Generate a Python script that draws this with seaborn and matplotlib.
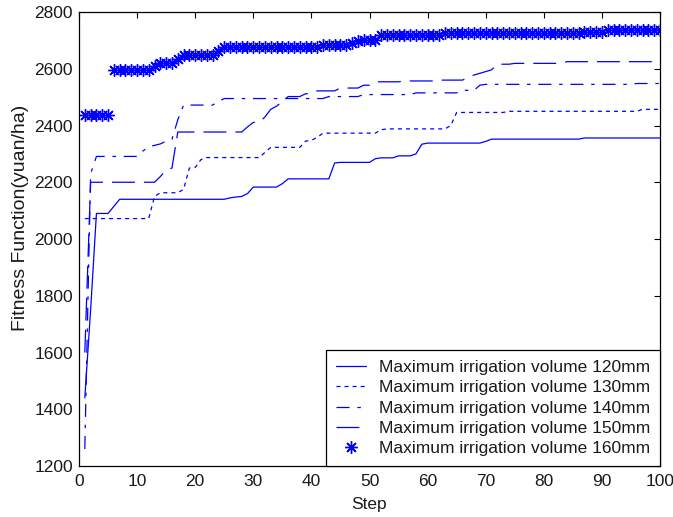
import matplotlib
matplotlib.use("Agg")
import matplotlib.pyplot as plt
import seaborn as sns
import pandas as pd

# ---------------- data ----------------
steps = list(range(1, 101))

v120 = [1440, 1750, 2090, 2090, 2090, 2115, 2140, 2140, 2140, 2140,
        2140, 2140, 2140, 2140, 2140, 2140, 2140, 2140, 2140, 2140,
        2140, 2140, 2140, 2140, 2140, 2145, 2148, 2150, 2160, 2183,
        2183, 2183, 2183, 2183, 2195, 2212, 2212, 2212, 2212, 2212,
        2212, 2212, 2212, 2268, 2270, 2270, 2270, 2270, 2270, 2270,
        2283, 2286, 2286, 2286, 2293, 2293, 2293, 2300, 2334, 2338,
        2338, 2338, 2338, 2338, 2338, 2338, 2338, 2338, 2338, 2344,
        2352, 2352, 2352, 2352, 2352, 2352, 2352, 2352, 2352, 2352,
        2352, 2352, 2352, 2352, 2352, 2352, 2356, 2356, 2356, 2356,
        2356, 2356, 2356, 2356, 2356, 2356, 2356, 2356, 2356, 2356]

v130 = [2072, 2072, 2072, 2072, 2072, 2072, 2072, 2072, 2072, 2072,
        2072, 2072, 2150, 2163, 2163, 2163, 2163, 2175, 2250, 2252,
        2280, 2287, 2287, 2287, 2287, 2287, 2287, 2287, 2287, 2287,
        2287, 2305, 2323, 2323, 2323, 2323, 2323, 2323, 2345, 2348,
        2358, 2373, 2373, 2373, 2373, 2373, 2373, 2373, 2373, 2373,
        2373, 2385, 2388, 2388, 2388, 2388, 2388, 2388, 2388, 2388,
        2388, 2388, 2388, 2400, 2446, 2446, 2446, 2446, 2446, 2446,
        2446, 2446, 2446, 2450, 2450, 2450, 2450, 2450, 2450, 2450,
        2450, 2450, 2450, 2450, 2450, 2450, 2450, 2450, 2450, 2450,
        2450, 2450, 2450, 2450, 2450, 2450, 2457, 2457, 2457, 2457]

v140 = [1260, 2230, 2291, 2291, 2291, 2291, 2291, 2291, 2291, 2291,
        2310, 2325, 2330, 2335, 2345, 2351, 2420, 2472, 2472, 2472,
        2472, 2472, 2472, 2485, 2495, 2495, 2495, 2495, 2495, 2495,
        2495, 2495, 2495, 2495, 2495, 2495, 2495, 2495, 2495, 2495,
        2495, 2495, 2502, 2502, 2502, 2502, 2502, 2502, 2509, 2509,
        2509, 2509, 2509, 2509, 2509, 2509, 2509, 2515, 2515, 2515,
        2515, 2515, 2515, 2515, 2515, 2524, 2524, 2524, 2542, 2545,
        2545, 2545, 2545, 2545, 2545, 2545, 2545, 2545, 2545, 2545,
        2545, 2545, 2545, 2545, 2545, 2545, 2545, 2545, 2545, 2545,
        2545, 2545, 2545, 2545, 2545, 2548, 2548, 2548, 2548, 2548]

v150 = [1600, 2200, 2200, 2200, 2200, 2200, 2200, 2200, 2200, 2200,
        2200, 2200, 2200, 2220, 2243, 2250, 2377, 2377, 2377, 2377,
        2377, 2377, 2377, 2377, 2377, 2377, 2377, 2377, 2395, 2411,
        2411, 2430, 2457, 2468, 2485, 2502, 2502, 2502, 2512, 2512,
        2522, 2522, 2522, 2522, 2532, 2532, 2532, 2532, 2542, 2542,
        2554, 2554, 2554, 2554, 2554, 2557, 2557, 2557, 2557, 2557,
        2557, 2560, 2560, 2560, 2560, 2560, 2570, 2578, 2584, 2590,
        2596, 2616, 2616, 2616, 2619, 2619, 2619, 2619, 2619, 2619,
        2619, 2619, 2619, 2625, 2625, 2625, 2625, 2625, 2625, 2625,
        2625, 2625, 2625, 2625, 2625, 2625, 2625, 2625, 2625, 2625]

v160 = [2437, 2437, 2437, 2437, 2437, 2597, 2597, 2597, 2597, 2597,
        2597, 2597, 2608, 2621, 2621, 2621, 2635, 2648, 2648, 2648,
        2648, 2648, 2648, 2662, 2677, 2677, 2677, 2677, 2677, 2677,
        2677, 2677, 2677, 2677, 2677, 2677, 2677, 2677, 2677, 2677,
        2677, 2683, 2683, 2683, 2683, 2683, 2690, 2697, 2702, 2702,
        2702, 2719, 2719, 2719, 2719, 2719, 2719, 2719, 2719, 2719,
        2719, 2719, 2726, 2726, 2726, 2726, 2726, 2726, 2726, 2726,
        2726, 2726, 2726, 2726, 2726, 2726, 2726, 2726, 2726, 2726,
        2726, 2726, 2726, 2726, 2726, 2726, 2731, 2731, 2731, 2731,
        2737, 2737, 2737, 2737, 2737, 2737, 2737, 2737, 2737, 2737]

labels = ["Maximum irrigation volume 120mm",
          "Maximum irrigation volume 130mm",
          "Maximum irrigation volume 140mm",
          "Maximum irrigation volume 150mm",
          "Maximum irrigation volume 160mm"]

x_ticks = [0, 10, 20, 30, 40, 50, 60, 70, 80, 90, 100]
y_ticks = [1200, 1400, 1600, 1800, 2000, 2200, 2400, 2600, 2800]

# ---------------- style ----------------
sns.set_theme(style="white")
plt.rcParams['font.family'] = ['Liberation Sans', 'DejaVu Sans']
plt.rcParams['lines.scale_dashes'] = False
plt.rcParams['axes.edgecolor'] = 'black'
plt.rcParams['text.color'] = '#1a1a1a'
plt.rcParams['axes.labelcolor'] = '#1a1a1a'

blue = "#0000ff"
lw = 0.9
fs = 12.5

fig = plt.figure(figsize=(6.73, 5.17), dpi=100)
ax = fig.add_axes([79 / 673, 1 - 466 / 517, (660 - 79) / 673, (466 - 12) / 517])

sns.lineplot(x=steps, y=v120, ax=ax, color=blue, linewidth=lw,
             linestyle='-', label=labels[0])
sns.lineplot(x=steps, y=v130, ax=ax, color=blue, linewidth=lw,
             linestyle=(0, (2.9, 2.9)), label=labels[1])
sns.lineplot(x=steps, y=v140, ax=ax, color=blue, linewidth=lw,
             linestyle=(0, (9.4, 5.6, 2.5, 5.6)), label=labels[2])
sns.lineplot(x=steps, y=v150, ax=ax, color=blue, linewidth=lw,
             linestyle=(0, (16.5, 6.5)), label=labels[3])
sns.lineplot(x=steps, y=v160, ax=ax, color=blue, linestyle='none',
             marker=(8, 2, 0), markersize=9, markeredgecolor=blue,
             markeredgewidth=1.0, label=labels[4])

ax.set_xlim(0, 100)
ax.set_ylim(1200, 2800)
ax.set_xticks(x_ticks)
ax.set_yticks(y_ticks)
ax.tick_params(direction='in', length=4, width=0.8, top=True, right=True,
               labelsize=fs, colors='black', labelcolor='#1a1a1a')
ax.tick_params(axis='x', pad=6)
ax.tick_params(axis='y', pad=4.5)
for s in ax.spines.values():
    s.set_visible(True)
    s.set_color('black')
    s.set_linewidth(0.9)
ax.grid(False)

ax.set_xlabel("Step", fontsize=fs)
ax.set_ylabel("Fitness Function(yuan/ha)", fontsize=14)
ax.xaxis.set_label_coords(0.5, -0.068)
ax.yaxis.set_label_coords(-0.086, 0.546)

handles, labs = ax.get_legend_handles_labels()
leg = ax.legend(handles, labs, loc='lower right', bbox_to_anchor=(1, 0),
                borderaxespad=0, frameon=True, fancybox=False,
                edgecolor='black', framealpha=1, fontsize=fs,
                handlelength=1.75, handletextpad=0.75, labelspacing=0.3,
                borderpad=0.55, numpoints=1)
leg.get_frame().set_linewidth(0.9)

fig.savefig("out.png", dpi=100, facecolor='white')
